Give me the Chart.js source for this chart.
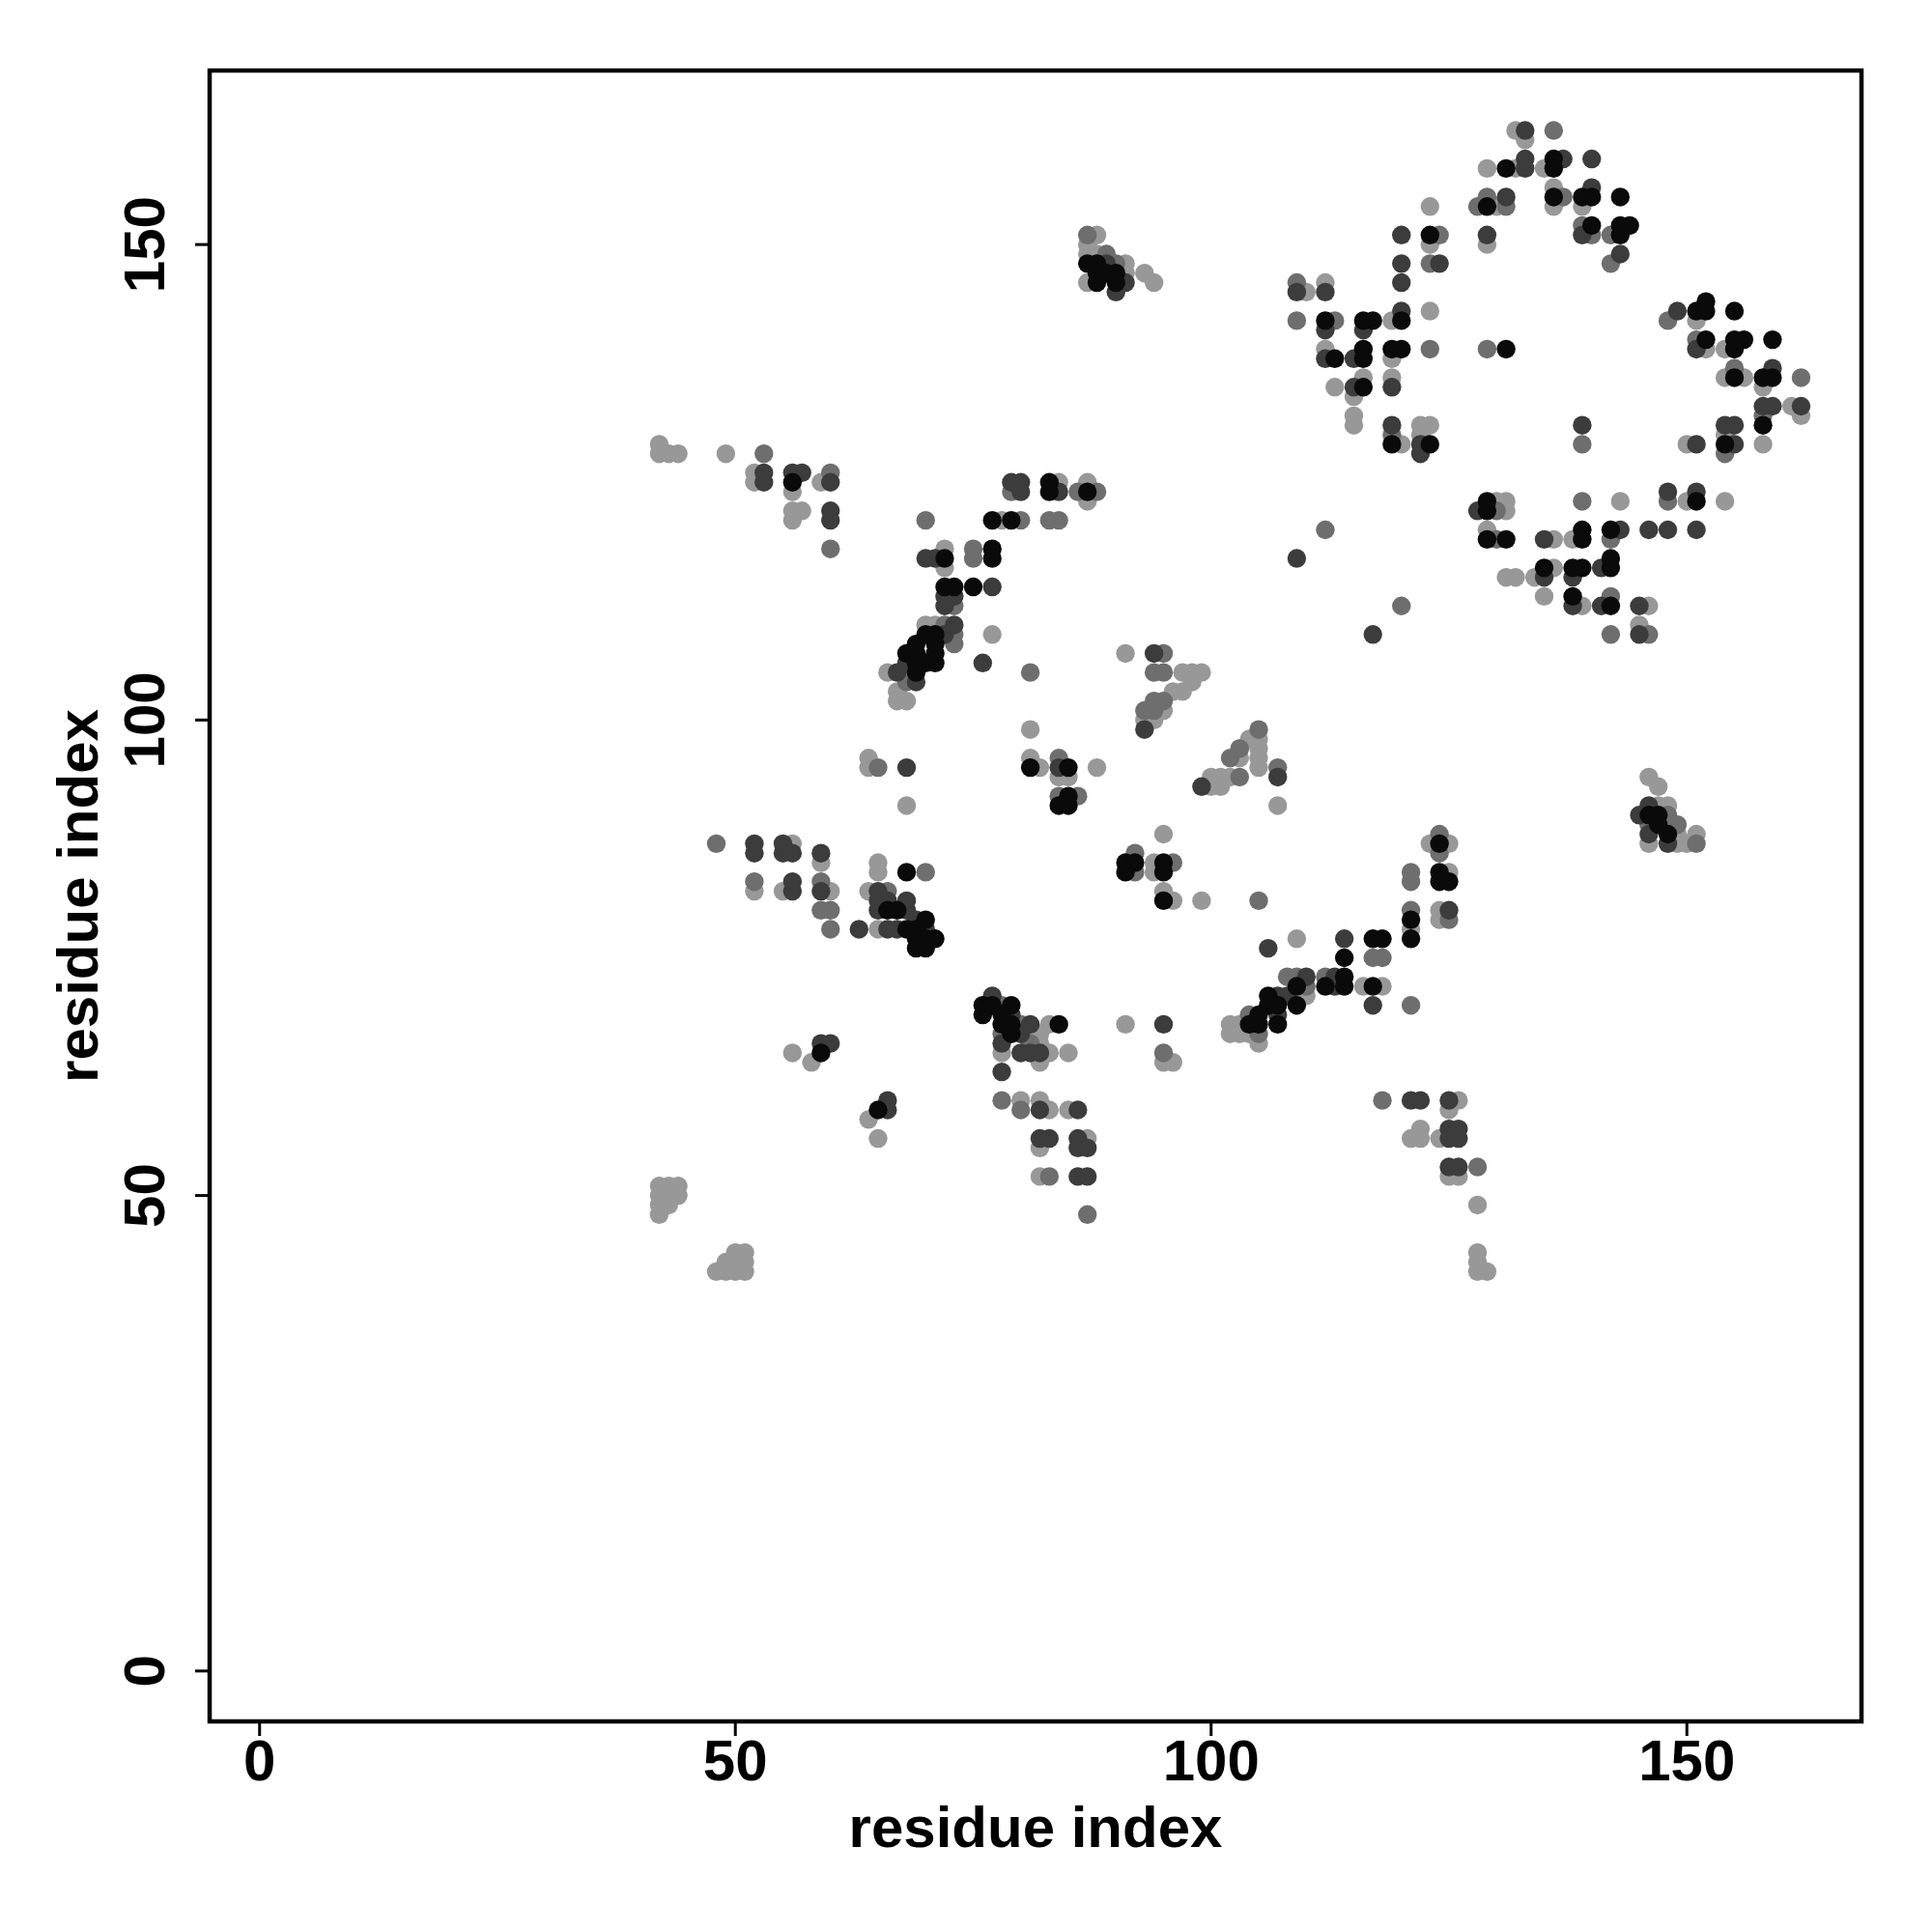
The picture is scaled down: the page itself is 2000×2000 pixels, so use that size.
<!DOCTYPE html>
<html>
<head>
<meta charset="utf-8">
<script src="https://cdn.jsdelivr.net/npm/chart.js@4.4.1/dist/chart.umd.min.js"></script>
<style>
  html, body { margin: 0; padding: 0; background: #fff; }
  #wrap { width: 2000px; height: 2000px; }
</style>
</head>
<body>
<div id="wrap"><canvas id="contactChart" width="2000" height="2000"></canvas></div>
<script>
// Residue contact map, points shaded by strength (black = strongest)

const tickValues = [0, 50, 100, 150];
const axisTitle = 'residue index';

const blackPoints = [
  [56,125],[70,109],[71,109],[69,108],[71,108],[68,107],[69,107],[71,107],[69,106],[70,106],[71,106],[69,105],
  [68,84],[66,80],[67,80],[70,79],[68,78],[69,78],[69,77],[70,77],[71,77],[69,76],[70,76],[59,65],[65,59],
  [87,148],[88,148],[88,147],[89,147],[90,147],[88,146],[90,146],[83,125],[83,124],[87,124],
  [77,121],[79,121],[72,117],[77,118],[77,117],[72,114],[73,114],[75,114],
  [81,95],[85,95],[85,92],[84,91],[85,91],[91,85],[92,85],[91,84],[95,85],[95,84],
  [129,123],[129,122],[129,119],[131,119],[124,87],[124,84],[124,83],[125,83],
  [121,79],[121,77],[114,75],[117,77],[118,77],[114,73],[109,72],[112,72],[114,72],[117,72],
  [106,71],[106,70],[107,70],[109,70],[105,69],[107,68],[105,68],[104,68],[95,81],
  [76,70],[77,70],[79,70],[76,69],[78,69],[78,68],[79,68],[84,68],[79,67],
  [131,158],[129,154],[123,151],[112,142],[116,142],[117,142],[120,142],[113,138],[116,139],[116,138],
  [119,139],[120,139],[131,139],[116,135],[119,129],[123,129],
  [136,159],[136,158],[136,155],[139,155],[140,155],[143,155],[140,152],[143,152],[144,152],[143,151],
  [151,143],[152,144],[152,143],[155,143],[152,140],[155,140],[156,140],[155,139],[159,140],
  [155,136],[158,136],[159,136],[158,131],[154,129],
  [151,123],[139,120],[139,119],[142,120],[135,116],[138,116],[139,116],[142,117],[142,116],[138,113],[142,112],
  [146,90],[147,90],[147,89],[148,88]
];

const darkPoints = [
  [53,126],[53,125],[56,126],[57,126],[60,125],[60,122],[60,121],[70,117],
  [72,109],[73,110],[68,106],[67,105],[69,104],
  [68,95],[52,87],[52,86],[55,87],[55,86],[56,86],[59,86],[56,83],[56,82],[59,82],[65,82],
  [63,78],[68,81],[65,81],[66,81],[65,80],[68,80],[69,79],[66,78],[67,78],[70,78],
  [59,66],[60,66],[66,60],[66,59],[89,148],[91,146],[90,145],
  [79,125],[80,125],[80,124],[84,124],[71,117],[77,114],[72,113],[73,113],[72,112],[76,106],
  [84,95],[94,107],[93,99],[99,93],[109,117],[117,109],[128,122],[107,94],
  [125,80],[106,76],[114,77],[110,73],[113,73],[113,72],[117,70],[107,71],[108,71],[107,69],
  [121,60],[122,60],[125,60],[125,57],[126,57],[125,56],[126,56],[125,53],[126,53],
  [77,71],[79,69],[81,68],[80,67],[78,66],[80,65],[81,65],[82,65],[78,63],[95,68],
  [82,59],[86,59],[82,56],[83,56],[86,56],[86,55],[87,55],[86,52],[87,52],
  [133,162],[133,159],[133,158],[131,155],[120,151],[129,151],[120,148],[124,148],[120,146],[109,145],
  [112,145],[112,141],[116,141],[120,143],[112,138],[115,138],[115,135],[119,135],[119,131],[122,129],[122,128],
  [137,159],[140,159],[140,156],[139,151],[143,149],[149,143],[151,139],[159,137],[158,133],[159,133],
  [162,133],[154,131],[155,131],[155,129],[151,129],[139,131],
  [148,124],[151,124],[135,119],[143,120],[146,120],[148,120],[151,120],[135,115],[138,115],[141,116],
  [138,112],[141,112],[145,112],[145,109],[146,91],[145,90],[146,88],[148,87]
];

const midPoints = [
  [53,128],[60,126],[70,121],[60,118],[72,110],[73,109],[73,108],[68,104],
  [65,95],[48,87],[70,84],[52,83],[59,83],[66,82],[59,80],[60,80],[60,78],
  [87,151],[89,149],[90,148],[79,124],[86,124],[88,124],
  [80,121],[83,121],[84,121],[75,118],[75,117],[73,112],[81,105],[84,96],[84,92],[86,92],
  [95,107],[94,105],[95,105],[95,102],[94,102],[93,101],[94,101],[102,96],[103,97],
  [92,86],[92,84],[96,85],
  [112,120],[120,112],[130,122],[130,119],[105,99],[107,95],[103,94],[124,88],[124,86],[121,84],[121,83],
  [105,81],[121,80],[125,79],[117,75],[118,75],[108,73],[109,73],[112,73],[110,72],[121,70],[104,69],
  [105,67],[118,60],[128,53],
  [78,70],[80,68],[78,67],[81,66],[95,65],[78,60],[80,59],[83,52],[87,48],
  [128,154],[129,155],[131,154],[124,151],[123,148],[109,146],[109,142],[113,142],[123,139],[129,139],[119,130],
  [136,162],[137,155],[139,152],[140,151],[142,151],[142,148],[148,142],[151,140],[155,137],[162,136],
  [158,132],[154,128],[139,129],
  [139,123],[148,123],[142,119],[142,113],[142,109],[146,109],[148,90],[146,89],[149,89],[151,87]
];

const lightPoints = [
  [42,129],[42,128],[43,128],[44,128],[49,128],[52,126],[52,125],[59,125],
  [56,124],[56,122],[57,122],[56,121],[70,110],[71,110],[66,105],[67,103],[67,102],[68,102],
  [64,96],[64,95],[68,91],[56,87],[59,85],[65,85],[65,84],[60,82],[55,82],[52,82],[64,82],
  [65,78],[56,65],[58,64],[64,58],[65,56],
  [42,51],[43,51],[44,51],[42,50],[43,50],[44,50],[42,49],[43,49],[42,48],
  [48,42],[49,42],[50,42],[51,42],[49,43],[50,43],[51,43],[50,44],[51,44],
  [88,151],[87,150],[87,149],[88,149],[91,148],[91,147],[93,147],[87,146],[94,146],
  [84,125],[87,125],[87,123],
  [78,121],[72,118],[72,116],[77,109],[81,99],[81,96],[82,95],[84,94],[85,94],[88,95],
  [91,107],[97,105],[98,105],[99,105],[98,104],[97,103],[96,103],[95,101],[93,100],[94,100],
  [100,93],[101,93],[100,94],[101,94],[102,94],[95,88],[94,85],[94,84],[95,82],
  [130,123],[131,123],[131,122],[129,120],[131,115],[132,115],[134,115],
  [104,98],[105,98],[103,97],[105,97],[103,96],[105,96],[105,95],[107,91],
  [123,87],[125,87],[125,84],
  [121,78],[124,80],[124,79],[109,77],[116,72],[118,72],[110,71],[103,68],[104,67],[105,66],[103,67],
  [126,60],[125,59],[122,57],[121,56],[122,56],[124,56],[125,52],[126,52],[128,49],[128,44],[128,43],[128,42],[129,42],
  [96,81],[99,81],[83,68],[82,67],[82,66],[78,65],[83,65],[85,65],[82,64],[91,68],[95,64],[96,64],[102,68],[102,67],
  [80,60],[82,60],[83,59],[85,59],[87,56],[82,55],[82,52],
  [132,162],[133,161],[129,158],[132,158],[135,158],[130,154],[123,154],[123,150],[129,150],[110,145],
  [112,146],[119,142],[123,143],[112,139],[119,138],[113,135],[116,136],[115,134],[119,136],[115,132],
  [115,131],[120,129],[122,131],[123,131],[122,130],
  [136,156],[136,154],[139,154],[151,142],[152,139],[154,139],[154,136],[156,136],[158,135],[161,133],
  [162,132],[154,130],[158,129],[150,129],
  [143,123],[150,123],[154,123],[138,119],[136,119],[136,116],[135,113],[139,112],[146,112],[145,110],
  [146,94],[147,93],[147,91],[148,91],[149,88],[151,88],[146,87],[149,87],[150,87]
];

function toXY(pairs) {
  return pairs.map(function(p) { return { x: p[0], y: p[1] }; });
}

function shade(label, pairs, color) {
  return {
    label: label,
    data: toXY(pairs),
    backgroundColor: color,
    borderWidth: 0,
    pointRadius: 9.7,
    pointHoverRadius: 9.7
  };
}

// frame, tick marks, tick labels and axis titles drawn R-style
const framePlugin = {
  id: 'frame',
  afterDraw: function(chart) {
    const ctx = chart.ctx;
    const area = chart.chartArea;
    const xs = chart.scales.x;
    const ys = chart.scales.y;
    ctx.save();
    ctx.strokeStyle = '#000';
    ctx.fillStyle = '#000';
    ctx.lineWidth = 4.5;
    ctx.strokeRect(area.left, area.top, area.right - area.left, area.bottom - area.top);

    ctx.lineWidth = 3;
    ctx.font = 'bold 60px "Liberation Sans", Arial, sans-serif';
    ctx.textAlign = 'center';
    ctx.textBaseline = 'alphabetic';
    tickValues.forEach(function(v) {
      const px = xs.getPixelForValue(v);
      ctx.beginPath();
      ctx.moveTo(px, area.bottom);
      ctx.lineTo(px, area.bottom + 15);
      ctx.stroke();
      ctx.fillText(String(v), px, 1843);

      const py = ys.getPixelForValue(v);
      ctx.beginPath();
      ctx.moveTo(area.left, py);
      ctx.lineTo(area.left - 15, py);
      ctx.stroke();
      ctx.save();
      ctx.translate(170, py);
      ctx.rotate(-Math.PI / 2);
      ctx.fillText(String(v), 0, 0);
      ctx.restore();
    });

    ctx.fillText(axisTitle, (area.left + area.right) / 2, 1912);
    ctx.save();
    ctx.translate(101, (area.top + area.bottom) / 2);
    ctx.rotate(-Math.PI / 2);
    ctx.fillText(axisTitle, 0, 0);
    ctx.restore();
    ctx.restore();
  }
};

new Chart(document.getElementById('contactChart'), {
  type: 'scatter',
  data: {
    datasets: [
      shade('black', blackPoints, '#0a0a0a'),
      shade('dark', darkPoints, '#3c3c3c'),
      shade('mid', midPoints, '#6e6e6e'),
      shade('light', lightPoints, '#989898')
    ]
  },
  options: {
    responsive: false,
    animation: false,
    devicePixelRatio: 1,
    layout: { padding: { left: 217, top: 73, right: 73, bottom: 218 } },
    plugins: { legend: { display: false }, tooltip: { enabled: false } },
    scales: {
      x: {
        type: 'linear',
        min: -5.25,
        max: 168.35,
        grid: { display: false },
        border: { display: false },
        ticks: { display: false },
        afterFit: function(scale) { scale.height = 0; }
      },
      y: {
        type: 'linear',
        min: -5.3,
        max: 168.3,
        grid: { display: false },
        border: { display: false },
        ticks: { display: false },
        afterFit: function(scale) { scale.width = 0; }
      }
    }
  },
  plugins: [framePlugin]
});
</script>
</body>
</html>
